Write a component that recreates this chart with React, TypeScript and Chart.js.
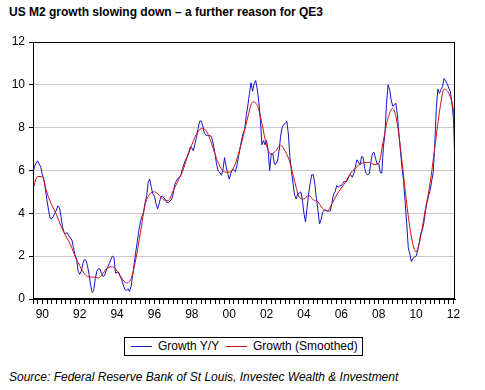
import React, { useEffect, useRef } from "react";
import { Chart, registerables } from "chart.js";

Chart.register(...registerables);

const TITLE = "US M2 growth slowing down – a further reason for QE3";
const SOURCE = "Source: Federal Reserve Bank of St Louis, Investec Wealth & Investment";
const seriesNames = ["Growth Y/Y", "Growth (Smoothed)"];
const seriesColors = ["#1414c8", "#d01010"];

// Monthly observations start January 1990
const FIRST_YEAR = 1990;
const yearTickLabels = ["90", "92", "94", "96", "98", "00", "02", "04", "06", "08", "10", "12"];
const yTickValues = [0, 2, 4, 6, 8, 10, 12];

// Growth Y/Y, monthly (Jan 1990 ...)
const growthYoY = [
  5.9, 6.2, 6.35, 6.45, 6.3, 6.15, 5.8, 5.6, 5.1, 4.6, 4.15, 3.75,
  3.75, 3.85, 4.0, 4.15, 4.35, 4.25, 3.85, 3.35, 3.1, 3.05, 3.1, 2.95,
  2.85, 2.75, 2.4, 2.05, 1.85, 1.3, 1.15, 1.3, 1.65, 1.85, 1.8, 1.55,
  1.15, 0.65, 0.3, 0.4, 0.95, 1.3, 1.42, 1.4, 1.2, 1.05, 1.1, 1.35,
  1.5, 1.65, 1.85, 2.0, 1.95, 1.2, 1.25, 1.25, 1.05, 0.9, 0.65, 0.45,
  0.4, 0.48, 0.35, 0.6, 1.1, 1.65, 2.2, 2.7, 3.2, 3.6, 3.87, 4.05,
  4.5, 4.8, 5.45, 5.6, 5.2, 4.9, 4.8, 4.45, 4.2, 4.45, 4.75, 4.82,
  4.72, 4.65, 4.5, 4.5, 4.58, 4.65, 4.9, 5.35, 5.5, 5.62, 5.7, 5.78,
  6.1, 6.3, 6.5, 6.65, 6.85, 7.1, 7.05, 6.92, 7.25, 7.55, 7.95, 8.3,
  8.32, 8.1, 7.75, 7.65, 7.63, 7.62, 7.63, 7.5, 7.15, 6.7, 6.25, 5.97,
  5.9, 5.78, 6.05, 6.6, 6.2, 5.88, 5.6, 5.85, 6.05, 6.02, 5.95, 6.25,
  6.65, 7.05, 7.45, 7.75, 7.95, 8.6, 9.05, 9.6, 10.1, 9.7, 10.05, 10.2,
  9.8, 9.2, 8.4, 7.2, 7.4, 7.2, 7.4, 6.95, 6.0, 6.8, 6.78, 6.3,
  6.3, 6.45, 6.9, 7.6, 8.0, 8.15, 8.2, 8.3, 7.7, 6.6, 5.95, 5.4,
  4.85, 4.67, 4.9, 4.95, 5.0, 4.6, 4.0, 3.6, 4.25, 4.9, 5.4, 5.8,
  5.8, 5.35, 4.7, 4.15, 3.5, 3.72, 4.05, 4.15, 4.15, 4.1, 4.1, 4.12,
  4.5, 4.9, 5.0, 5.3, 5.22, 5.28, 5.3, 5.4, 5.5, 5.45, 5.55, 5.75,
  5.8, 5.68, 5.85, 6.15, 6.5, 6.4, 6.25, 6.65, 6.62, 6.1, 5.85, 5.8,
  5.85, 6.4, 6.8, 6.85, 6.55, 6.3, 6.35, 5.9, 5.88, 7.1, 7.7, 9.1,
  10.0, 9.8, 9.3, 9.0, 9.05, 9.15, 8.6, 7.7, 6.9, 6.1, 5.5, 4.5,
  3.5, 2.4, 2.1, 1.75, 1.9, 1.95, 2.0, 2.25, 2.6, 3.05, 3.22, 3.55,
  4.1, 4.5, 4.8, 5.05, 5.5, 5.9, 7.2, 8.9, 9.8, 9.6, 9.77, 9.92,
  10.3, 10.18, 10.05, 9.85, 9.7, 9.2, 8.4, 6.3,
];

// Growth (Smoothed), read at these month offsets from Jan 1990
const smoothedMonths = [
  0, 3, 6, 9, 12, 15, 18, 21, 24, 27, 30, 33, 36, 39, 42, 45, 48, 51, 54, 57,
  60, 63, 66, 69, 72, 75, 78, 81, 84, 87, 90, 93, 96, 99, 102, 105, 108, 111, 114, 117,
  120, 123, 126, 129, 132, 135, 138, 141, 144, 147, 150, 153, 156, 159, 162, 165, 168, 171, 174, 177,
  180, 183, 186, 189, 192, 195, 198, 201, 204, 207, 210, 213, 216, 219, 222, 225, 228, 231, 234, 237,
  240, 243, 246, 249, 252, 255, 258, 261, 264, 267, 270, 271,
];
const growthSmoothed = [
  5.15, 5.72, 5.7, 4.95, 4.4, 3.95, 3.4, 2.95, 2.55, 2.0, 1.55, 1.18, 1.03, 1.02, 0.98, 1.2, 1.47, 1.5, 1.3, 0.98,
  0.75, 0.95, 1.85, 3.1, 4.4, 4.9, 5.0, 4.85, 4.63, 4.6, 5.05, 5.5, 5.95, 6.6, 7.2, 7.7, 7.95, 7.88, 7.4, 6.75,
  6.2, 5.93, 5.92, 6.15, 6.8, 7.6, 8.5, 9.2, 9.05, 8.2, 7.15, 6.75, 6.93, 7.17, 6.9, 6.37, 5.5, 4.75, 4.67, 4.84,
  4.63, 4.53, 4.23, 4.12, 4.45, 4.86, 5.18, 5.5, 5.88, 6.1, 6.3, 6.37, 6.38, 6.28, 6.33, 7.4, 8.44, 8.9, 8.15, 6.4,
  4.45, 2.9, 2.2, 2.94, 4.2, 5.4, 7.05, 8.72, 9.8, 9.6, 8.8, 8.1,
];

const FONT = '"Liberation Sans", Arial, Helvetica, sans-serif';

const frame = {
  id: "frame",
  afterDatasetsDraw(chart: any) {
    const { ctx, chartArea } = chart;
    const l = Math.round(chartArea.left) + 0.5;
    const t = Math.round(chartArea.top) + 0.5;
    const r = Math.round(chartArea.right) - 0.5;
    const b = Math.round(chartArea.bottom) - 0.5;
    ctx.save();
    ctx.strokeStyle = "#000";
    ctx.lineWidth = 1;
    ctx.strokeRect(l, t, r - l, b - t);
    ctx.restore();
  },
};

function ChartCanvas() {
  const ref = useRef<HTMLCanvasElement | null>(null);
  useEffect(() => {
    if (!ref.current) return;
    const toYear = (m: number) => FIRST_YEAR + m / 12;
    const yoyPts = growthYoY.map((v, i) => ({ x: toYear(i), y: v }));
    const smPts = growthSmoothed.map((v, i) => ({ x: toYear(smoothedMonths[i]), y: v }));
    const xMax = toYear(growthYoY.length - 1);
    const labelYears = yearTickLabels.map((_, i) => FIRST_YEAR + 2 * i + 0.5);

    const chart = new Chart(ref.current, {
      type: "line",
      data: {
        datasets: [
          {
            label: seriesNames[1],
            data: smPts,
            borderColor: seriesColors[1],
            borderWidth: 1,
            pointRadius: 0,
            cubicInterpolationMode: "monotone",
            fill: false,
          },
          {
            label: seriesNames[0],
            data: yoyPts,
            borderColor: seriesColors[0],
            borderWidth: 1,
            pointRadius: 0,
            tension: 0,
            fill: false,
          },
        ],
      },
      options: {
        animation: false,
        responsive: true,
        maintainAspectRatio: false,
        layout: { padding: { left: 0, top: 42, right: 30, bottom: 0 } },
        plugins: {
          legend: { display: false },
          title: { display: false },
          tooltip: { enabled: false },
        },
        scales: {
          x: {
            type: "linear",
            min: FIRST_YEAR,
            max: xMax,
            afterFit: (s: any) => {
              s.height = 31;
            },
            afterBuildTicks: (s: any) => {
              const t = [];
              for (let v = FIRST_YEAR; v <= xMax + 1e-9; v += 0.25) t.push({ value: v });
              s.ticks = t;
            },
            ticks: {
              autoSkip: false,
              maxRotation: 0,
              minRotation: 0,
              padding: 3,
              color: "#000",
              font: { family: FONT, size: 12 },
              callback: (v: any) => {
                const idx = labelYears.findIndex((y) => Math.abs(y - v) < 1e-6);
                return idx >= 0 ? yearTickLabels[idx] : "";
              },
            },
            grid: {
              display: true,
              drawOnChartArea: false,
              drawTicks: true,
              tickLength: 5,
              tickColor: "#000",
            },
            border: { display: true, color: "#000" },
          },
          y: {
            min: 0,
            max: 12,
            afterFit: (s: any) => {
              s.width = 33;
            },
            afterBuildTicks: (s: any) => {
              s.ticks = yTickValues.map((v) => ({ value: v }));
            },
            ticks: {
              padding: 4,
              color: "#000",
              font: { family: FONT, size: 12 },
            },
            grid: {
              color: "#c8c8c8",
              lineWidth: 1,
              drawTicks: true,
              tickLength: 4,
              tickColor: "#000",
            },
            border: { display: true, color: "#000" },
          },
        },
      },
      plugins: [frame],
    });
    return () => chart.destroy();
  }, []);
  return (
    <div style={{ position: "absolute", left: 0, top: 0, width: 485, height: 330 }}>
      <canvas ref={ref} />
    </div>
  );
}

export default function App() {
  return (
    <div
      style={{
        position: "absolute",
        left: 0,
        top: 0,
        width: 485,
        height: 390,
        background: "#fff",
        fontFamily: FONT,
        color: "#000",
        overflow: "hidden",
      }}
    >
      <div
        style={{
          position: "absolute",
          left: 9,
          top: 5,
          fontSize: 12,
          fontWeight: "bold",
          whiteSpace: "nowrap",
          lineHeight: "14px",
        }}
      >
        {TITLE}
      </div>
      <ChartCanvas />
      <div
        style={{
          position: "absolute",
          left: 124,
          top: 337,
          width: 239,
          height: 19,
          border: "1px solid #000",
          boxSizing: "border-box",
          fontSize: 12,
          lineHeight: "17px",
          whiteSpace: "nowrap",
        }}
      >
        <div style={{ position: "absolute", left: 6, top: 8, width: 21, borderTop: `1px solid ${seriesColors[0]}` }} />
        <div style={{ position: "absolute", left: 33, top: 0 }}>{seriesNames[0]}</div>
        <div style={{ position: "absolute", left: 101, top: 8, width: 21, borderTop: `1px solid ${seriesColors[1]}` }} />
        <div style={{ position: "absolute", left: 128, top: 0 }}>{seriesNames[1]}</div>
      </div>
      <div
        style={{
          position: "absolute",
          left: 9,
          top: 370,
          fontSize: 12,
          fontStyle: "italic",
          whiteSpace: "nowrap",
          lineHeight: "14px",
        }}
      >
        {SOURCE}
      </div>
    </div>
  );
}
